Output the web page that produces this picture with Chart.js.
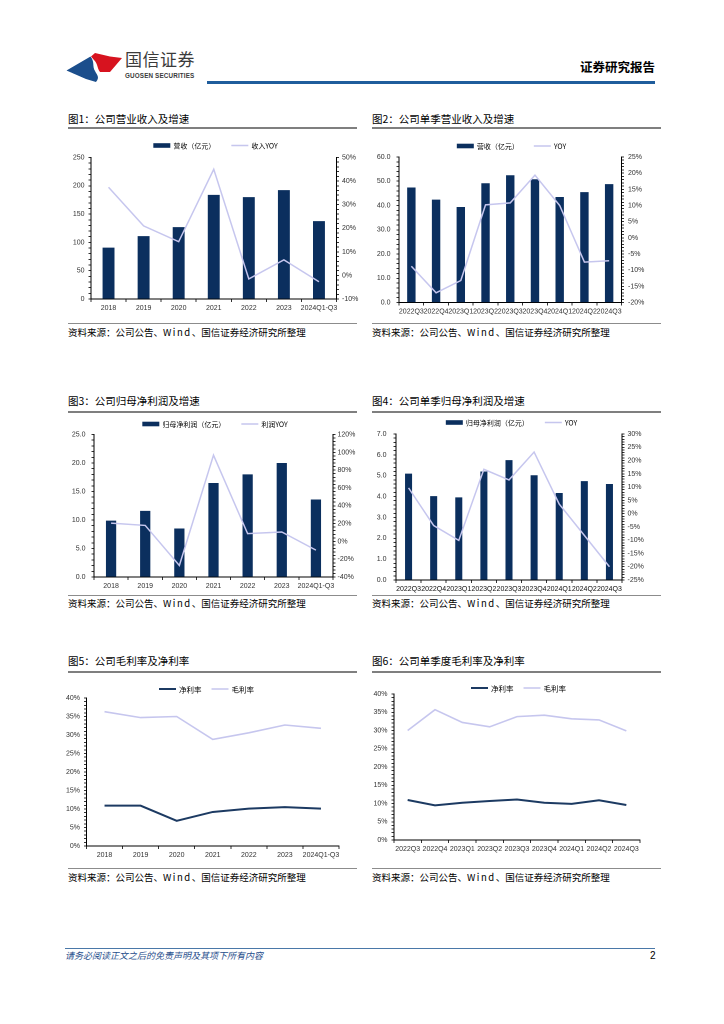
<!DOCTYPE html>
<html>
<head>
<meta charset="utf-8">
<script src="https://cdn.jsdelivr.net/npm/chart.js@4.4.1/dist/chart.umd.min.js"></script>
<style>
html,body{margin:0;padding:0;background:#fff;}
body{width:724px;height:1024px;position:relative;overflow:hidden;font-family:"Noto Sans CJK SC","Noto Sans",sans-serif;}
.abs{position:absolute;}
.title{font-size:10.5px;color:#000;line-height:1;white-space:nowrap;}
.src{font-size:9.5px;color:#000;line-height:1;white-space:nowrap;}
.src .w{letter-spacing:1.5px;}
.tl{height:2px;background:#7f7f7f;}
.bl{height:1.5px;background:#8c8c8c;}
</style>
</head>
<body>
<script>
// ---------- DATA ----------
const years = ['2018','2019','2020','2021','2022','2023','2024Q1-Q3'];
const quarters = ['2022Q3','2022Q4','2023Q1','2023Q2','2023Q3','2023Q4','2024Q1','2024Q2','2024Q3'];

const revenueAnnual = [90.8, 111, 126.9, 184, 180, 192.3, 137.5];
const revenueAnnualYoy = [37.4, 21, 14.3, 45, -1.5, 6.6, -2.7];

const revenueQuarter = [47.4, 42.4, 39.4, 49.2, 52.5, 50.8, 43.5, 45.5, 48.8];
const revenueQuarterYoy = [-8.8, -17, -13.2, 10.2, 10.8, 19.4, 10, -7.5, -7.1];

const profitAnnual = [9.9, 11.6, 8.5, 16.5, 18.0, 20.0, 13.6];
const profitAnnualYoy = [20.5, 17.9, -27.1, 96.8, 8.7, 10.5, -9.8];

const profitQuarter = [5.1, 4.02, 3.96, 5.2, 5.75, 5.02, 4.17, 4.74, 4.6];
const profitQuarterYoy = [9.7, -4.5, -10.1, 16.7, 12.7, 23.2, 3.6, -8.2, -20];

const netMarginAnnual = [10.9, 10.9, 6.8, 9.2, 10.1, 10.5, 10.1];
const grossMarginAnnual = [36.3, 34.7, 35.0, 28.8, 30.6, 32.7, 31.8];

const netMarginQuarter = [10.95, 9.5, 10.2, 10.7, 11.1, 10.2, 9.9, 10.9, 9.6];
const grossMarginQuarter = [30.0, 35.7, 32.2, 31.0, 33.8, 34.2, 33.2, 32.9, 29.9];

// axis ranges [min, max, major, minor]
const axis1L = [0, 250, 50, 10],  axis1R = [-10, 50, 10, 2];
const axis2L = [0, 60, 10, 2],    axis2R = [-20, 25, 5, 1];
const axis3L = [0, 25, 5, 1],     axis3R = [-40, 120, 20, 4];
const axis4L = [0, 7, 1, 0.2],    axis4R = [-25, 30, 5, 1];
const axis5L = [0, 40, 5, 1];
const axis6L = [0, 40, 5, 1];

// ---------- STYLE ----------
const NAVY = '#0B2F5E';
const LILAC = '#C6C6EE';
const DARKLINE = '#1C3A62';
const TICKFONT = {family:'"Liberation Sans", Arial, sans-serif', size:7};
const TICKCOLOR = '#333';

// ---------- STATIC PAGE ----------
function addEl(html){ const d=document.createElement('div'); d.innerHTML=html; while(d.firstChild) document.body.appendChild(d.firstChild); }

addEl(`
<svg class="abs" style="left:0;top:0" width="724" height="100">
  <path d="M66.5,70.5 L90.5,56.5 C95,62 92,66 95,71 C97,75 100,77 96,82 L86,79 Z" fill="#1B4E8C"/>
  <path d="M91,56.5 L95,53 L110,56.5 L122,58 L110,72 L100,72 C97,68 98,64 94,60 Z" fill="#D7131F"/>
</svg>
<div class="abs" style="left:125px;top:50px;font-size:17px;color:#3b3b3b;line-height:1;letter-spacing:0.5px;">国信证券</div>
<div class="abs" style="left:125px;top:73px;font-size:6.3px;color:#3b3b3b;line-height:1;font-family:'Liberation Sans',Arial,sans-serif;font-weight:bold;letter-spacing:0.15px;">GUOSEN SECURITIES</div>
<div class="abs" style="left:580px;top:61px;font-size:12.5px;font-weight:bold;color:#000;line-height:1;">证券研究报告</div>
<div class="abs" style="left:207px;top:81px;width:448px;height:2.5px;background:#1F5D9C;"></div>

<div class="abs" style="left:65px;top:947.5px;width:590px;height:1px;background:#4A78A8;"></div>
<div class="abs" style="left:65px;top:951px;font-size:9px;font-style:italic;color:#1F4E8C;line-height:1;">请务必阅读正文之后的免责声明及其项下所有内容</div>
<div class="abs" style="left:650px;top:951px;font-size:10px;color:#000;line-height:1;font-family:'Liberation Sans',Arial,sans-serif;">2</div>
`);

function panel(x, titleY, lineY, botY, srcY, title){
  addEl(`
  <div class="abs title" style="left:${x}px;top:${titleY-6}px;">${title}</div>
  <div class="abs tl" style="left:${x}px;top:${lineY}px;width:289px;"></div>
  <div class="abs bl" style="left:${x}px;top:${botY}px;width:289px;"></div>
  <div class="abs src" style="left:${x}px;top:${srcY-5.5}px;">资料来源：公司公告、<span class="w">Wind</span>、国信证券经济研究所整理</div>`);
}
panel(68, 120, 127, 322.5, 333, '图1：公司营业收入及增速');
panel(372, 120, 127, 322.5, 333, '图2：公司单季营业收入及增速');
panel(68, 402, 411, 594.5, 604.5, '图3：公司归母净利润及增速');
panel(372, 402, 411, 594.5, 604.5, '图4：公司单季归母净利润及增速');
panel(68, 662, 670.5, 867.5, 878, '图5：公司毛利率及净利率');
panel(372, 662, 670.5, 867.5, 878, '图6：公司单季度毛利率及净利率');

// ---------- CHART FACTORY ----------
function legendPlugin(cxPage, yPage, cx, cy, fontSize, itemGap){
  return {
    id:'miniLegend',
    afterDraw(chart){
      const ctx = chart.ctx;
      ctx.save();
      ctx.font = fontSize + 'px "Noto Sans CJK SC"';
      const sw = 17, gap = 3;
      const items = chart.data.datasets.map(ds => ({ds, w: sw + gap + ctx.measureText(ds.label).width}));
      const total = items.reduce((a,b)=>a+b.w,0) + itemGap*(items.length-1);
      let x = (cxPage - cx) - total/2;
      const y = yPage - cy;
      items.forEach(it => {
        const ds = it.ds;
        if (ds.type === 'bar') {
          ctx.fillStyle = ds.backgroundColor;
          ctx.fillRect(x, y-2.3, sw, 4.6);
        } else {
          ctx.strokeStyle = ds.borderColor;
          ctx.lineWidth = ds.borderWidth;
          ctx.beginPath(); ctx.moveTo(x, y); ctx.lineTo(x+sw, y); ctx.stroke();
        }
        ctx.fillStyle = '#000';
        ctx.textBaseline = 'middle';
        ctx.textAlign = 'left';
        ctx.fillText(ds.label, x+sw+gap, y+0.5);
        x += it.w + itemGap;
      });
      ctx.restore();
    }
  };
}

function yAxis(range, pos, width, fmt, pad){
  const [mn, mx, major, minor] = range;
  return {
    type:'linear', position:pos, min:mn, max:mx,
    grid:{display:true, drawOnChartArea:false, drawTicks:true, tickLength:2.5, color:'#000', lineWidth:0.8},
    border:{display:true, color:'#000', width:1},
    ticks:{
      stepSize:minor, autoSkip:false, font:TICKFONT, color:TICKCOLOR, padding:pad,
      callback:(v)=>{ const r = v/major; return Math.abs(r-Math.round(r))<1e-6 ? fmt(v) : ''; }
    },
    afterFit(s){ s.width = width; }
  };
}

function makeChart(o){
  const div = document.createElement('div');
  div.className = 'abs';
  div.style.left = o.cx+'px'; div.style.top = o.cy+'px';
  div.style.width = o.cw+'px'; div.style.height = o.ch+'px';
  const cv = document.createElement('canvas');
  div.appendChild(cv);
  document.body.appendChild(div);

  const scales = {
    x: {
      type:'category', offset:true,
      grid:{display:true, drawOnChartArea:false, drawTicks:true, tickLength:3, color:'#000', offset:true, lineWidth:0.8},
      border:{display:true, color:'#000', width:1},
      ticks:{font:o.xFont||TICKFONT, color:o.xColor||TICKCOLOR, autoSkip:false, maxRotation:0, minRotation:0, padding:o.xPad||2},
      afterFit(s){ s.height = (o.cy + o.ch) - o.B; }
    },
    y: yAxis(o.left, 'left', o.L - o.cx, o.leftFmt, o.leftPad||4)
  };
  if (o.right) scales.y1 = yAxis(o.right, 'right', (o.cx + o.cw) - o.R, o.rightFmt, o.rightPad||3);

  new Chart(cv, {
    type: o.type,
    data: { labels:o.labels, datasets:o.datasets },
    options: {
      responsive:true, maintainAspectRatio:false, animation:false,
      devicePixelRatio: 2,
      layout:{padding:{top:o.T - o.cy, left:0, bottom:0, right: o.right ? 0 : (o.cx + o.cw) - o.R}},
      plugins:{legend:{display:false}, tooltip:{enabled:false}},
      scales
    },
    plugins:[legendPlugin(o.legX, o.legY, o.cx, o.cy, o.legFont||7, o.legGap||15)]
  });
}

const intFmt = v => String(Math.round(v));
const decFmt = v => v.toFixed(1);
const pctFmt = v => Math.round(v) + '%';

function barDs(label, data, pct){
  return {type:'bar', label, data, backgroundColor:NAVY, borderWidth:0, barPercentage:pct, categoryPercentage:1, yAxisID:'y', order:2};
}
function lineDs(label, data, color, w, axisId){
  return {type:'line', label, data, borderColor:color, backgroundColor:color, borderWidth:w, pointRadius:0, tension:0, fill:false, yAxisID:axisId, order:1};
}

// Chart 1
makeChart({
  type:'bar', labels:years, cx:62, cy:135, cw:300, ch:182,
  L:91, R:336.5, T:157.5, B:299,
  left:axis1L, right:axis1R, leftFmt:intFmt, rightFmt:pctFmt, leftPad:4, rightPad:3,
  legX:215.5, legY:145.5, legGap:16,
  datasets:[barDs('营收（亿元）', revenueAnnual, 0.34), lineDs('收入YOY', revenueAnnualYoy, LILAC, 1.5, 'y1')]
});

// Chart 2
makeChart({
  type:'bar', labels:quarters, cx:370, cy:135, cw:292, ch:185,
  L:399, R:621.5, T:157, B:302.5,
  left:axis2L, right:axis2R, leftFmt:decFmt, rightFmt:pctFmt, leftPad:6, rightPad:4,
  legX:511.5, legY:146, legGap:15,
  datasets:[barDs('营收（亿元）', revenueQuarter, 0.34), lineDs('YOY', revenueQuarterYoy, LILAC, 1.5, 'y1')]
});

// Chart 3
makeChart({
  type:'bar', labels:years, cx:62, cy:412, cw:300, ch:182,
  L:94, R:333, T:434.5, B:577,
  left:axis3L, right:axis3R, leftFmt:decFmt, rightFmt:pctFmt, leftPad:6, rightPad:2,
  legX:215, legY:424, legGap:16,
  datasets:[barDs('归母净利润（亿元）', profitAnnual, 0.3), lineDs('利润YOY', profitAnnualYoy, LILAC, 1.5, 'y1')]
});

// Chart 4
makeChart({
  type:'bar', labels:quarters, cx:370, cy:412, cw:292, ch:182,
  L:396, R:622, T:434, B:580,
  left:axis4L, right:axis4R, leftFmt:decFmt, rightFmt:pctFmt, leftPad:7, rightPad:3,
  legX:511.5, legY:422.5, legGap:16,
  xColor:'#111',
  datasets:[barDs('归母净利润（亿元）', profitQuarter, 0.28), lineDs('YOY', profitQuarterYoy, LILAC, 1.5, 'y1')]
});

// Chart 5
makeChart({
  type:'line', labels:years, cx:58, cy:672, cw:305, ch:192,
  L:86.5, R:339, T:698, B:846,
  left:axis5L, leftFmt:pctFmt, leftPad:4,
  legX:206.5, legY:689, legGap:10, legFont:7.5,
  datasets:[lineDs('净利率', netMarginAnnual, DARKLINE, 2, 'y'), lineDs('毛利率', grossMarginAnnual, LILAC, 1.6, 'y')]
});

// Chart 6
makeChart({
  type:'line', labels:quarters, cx:366, cy:672, cw:296, ch:192,
  L:394, R:640, T:694, B:840,
  left:axis6L, leftFmt:pctFmt, leftPad:4,
  legX:518.5, legY:688, legGap:10, legFont:7.5,
  datasets:[lineDs('净利率', netMarginQuarter, DARKLINE, 2, 'y'), lineDs('毛利率', grossMarginQuarter, LILAC, 1.6, 'y')]
});
</script>
</body>
</html>
